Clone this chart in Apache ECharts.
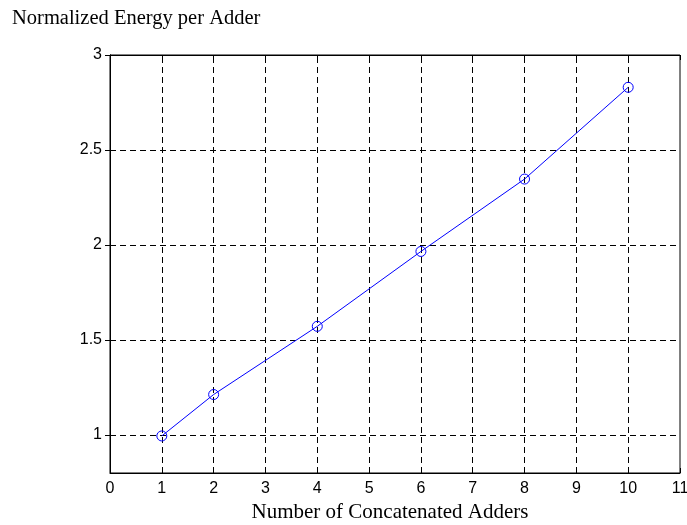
<!DOCTYPE html>
<html><head><meta charset="utf-8">
<script src="https://cdn.jsdelivr.net/npm/echarts@6/dist/echarts.min.js"></script>
<style>html,body{margin:0;padding:0;background:#fff}#c{width:687px;height:525px}</style>
</head><body><div id="c"></div>
<script>
const xValues = [1, 2, 4, 6, 8, 10];
const yValues = [0.995, 1.213, 1.572, 1.966, 2.347, 2.83];
const yTicks = [1, 1.5, 2, 2.5, 3];
const xTicks = [0,1,2,3,4,5,6,7,8,9,10,11];
const titleText = 'Normalized Energy per Adder';
const xName = 'Number of Concatenated Adders';

const chart = echarts.init(document.getElementById('c'));
const dash = {color:'#000', type:[6,4], width:1};
const lbl = {color:'#000', fontFamily:'Liberation Sans, Arial, sans-serif', fontSize:16};
chart.setOption({
  animation:false,
  title:{text:titleText, left:7, top:3, textStyle:{fontFamily:'Liberation Serif, Times New Roman, serif', fontWeight:'normal', fontSize:20.5, color:'#000'}},
  grid:{left:110, right:7, top:55, bottom:52, outerBoundsMode:'none', containLabel:false, show:true, borderColor:'#000', borderWidth:1, backgroundColor:'#fff'},
  xAxis:[{type:'value', min:0, max:11, interval:1,
    name:xName, nameLocation:'middle', nameGap:27,
    nameTextStyle:{fontFamily:'Liberation Serif, Times New Roman, serif', fontSize:21, color:'#000', padding:[0,10,0,0]},
    axisLine:{show:true, lineStyle:{color:'#000'}},
    axisTick:{show:true, inside:true, length:5, lineStyle:{color:'#000'}},
    axisLabel:Object.assign({margin:8, customValues:xTicks}, lbl),
    splitLine:{show:false}},
   {type:'value', min:0, max:11, interval:1, position:'top',
    axisLine:{show:true, lineStyle:{color:'#000'}},
    axisTick:{show:true, inside:true, length:5, lineStyle:{color:'#000'}},
    axisLabel:{show:false}, splitLine:{show:false}}],
  yAxis:[{type:'value', min:0.8, max:3,
    axisLine:{show:true, lineStyle:{color:'#000'}},
    axisTick:{show:true, inside:true, length:5, customValues:yTicks, lineStyle:{color:'#000'}},
    axisLabel:Object.assign({margin:8, customValues:yTicks}, lbl),
    splitLine:{show:false}},
   {type:'value', min:0.8, max:3, position:'right',
    axisLine:{show:true, lineStyle:{color:'#000'}},
    axisTick:{show:true, inside:true, length:5, customValues:yTicks, lineStyle:{color:'#000'}},
    axisLabel:{show:false}, splitLine:{show:false}}],
  series:[{type:'line', data:xValues.map((x,i)=>[x,yValues[i]]),
    symbol:'circle', symbolSize:10, showAllSymbol:true,
    lineStyle:{color:'#0000ff', width:1},
    itemStyle:{color:'rgba(0,0,0,0)', borderColor:'#0000ff', borderWidth:1},
    z:5,
    markLine:{silent:true, symbol:'none', label:{show:false}, lineStyle:dash, z:1,
      data: xTicks.slice(1,-1).map(v=>({xAxis:v})).concat(yTicks.slice(0,-1).map(v=>({yAxis:v})))}
  }]
});
</script></body></html>
